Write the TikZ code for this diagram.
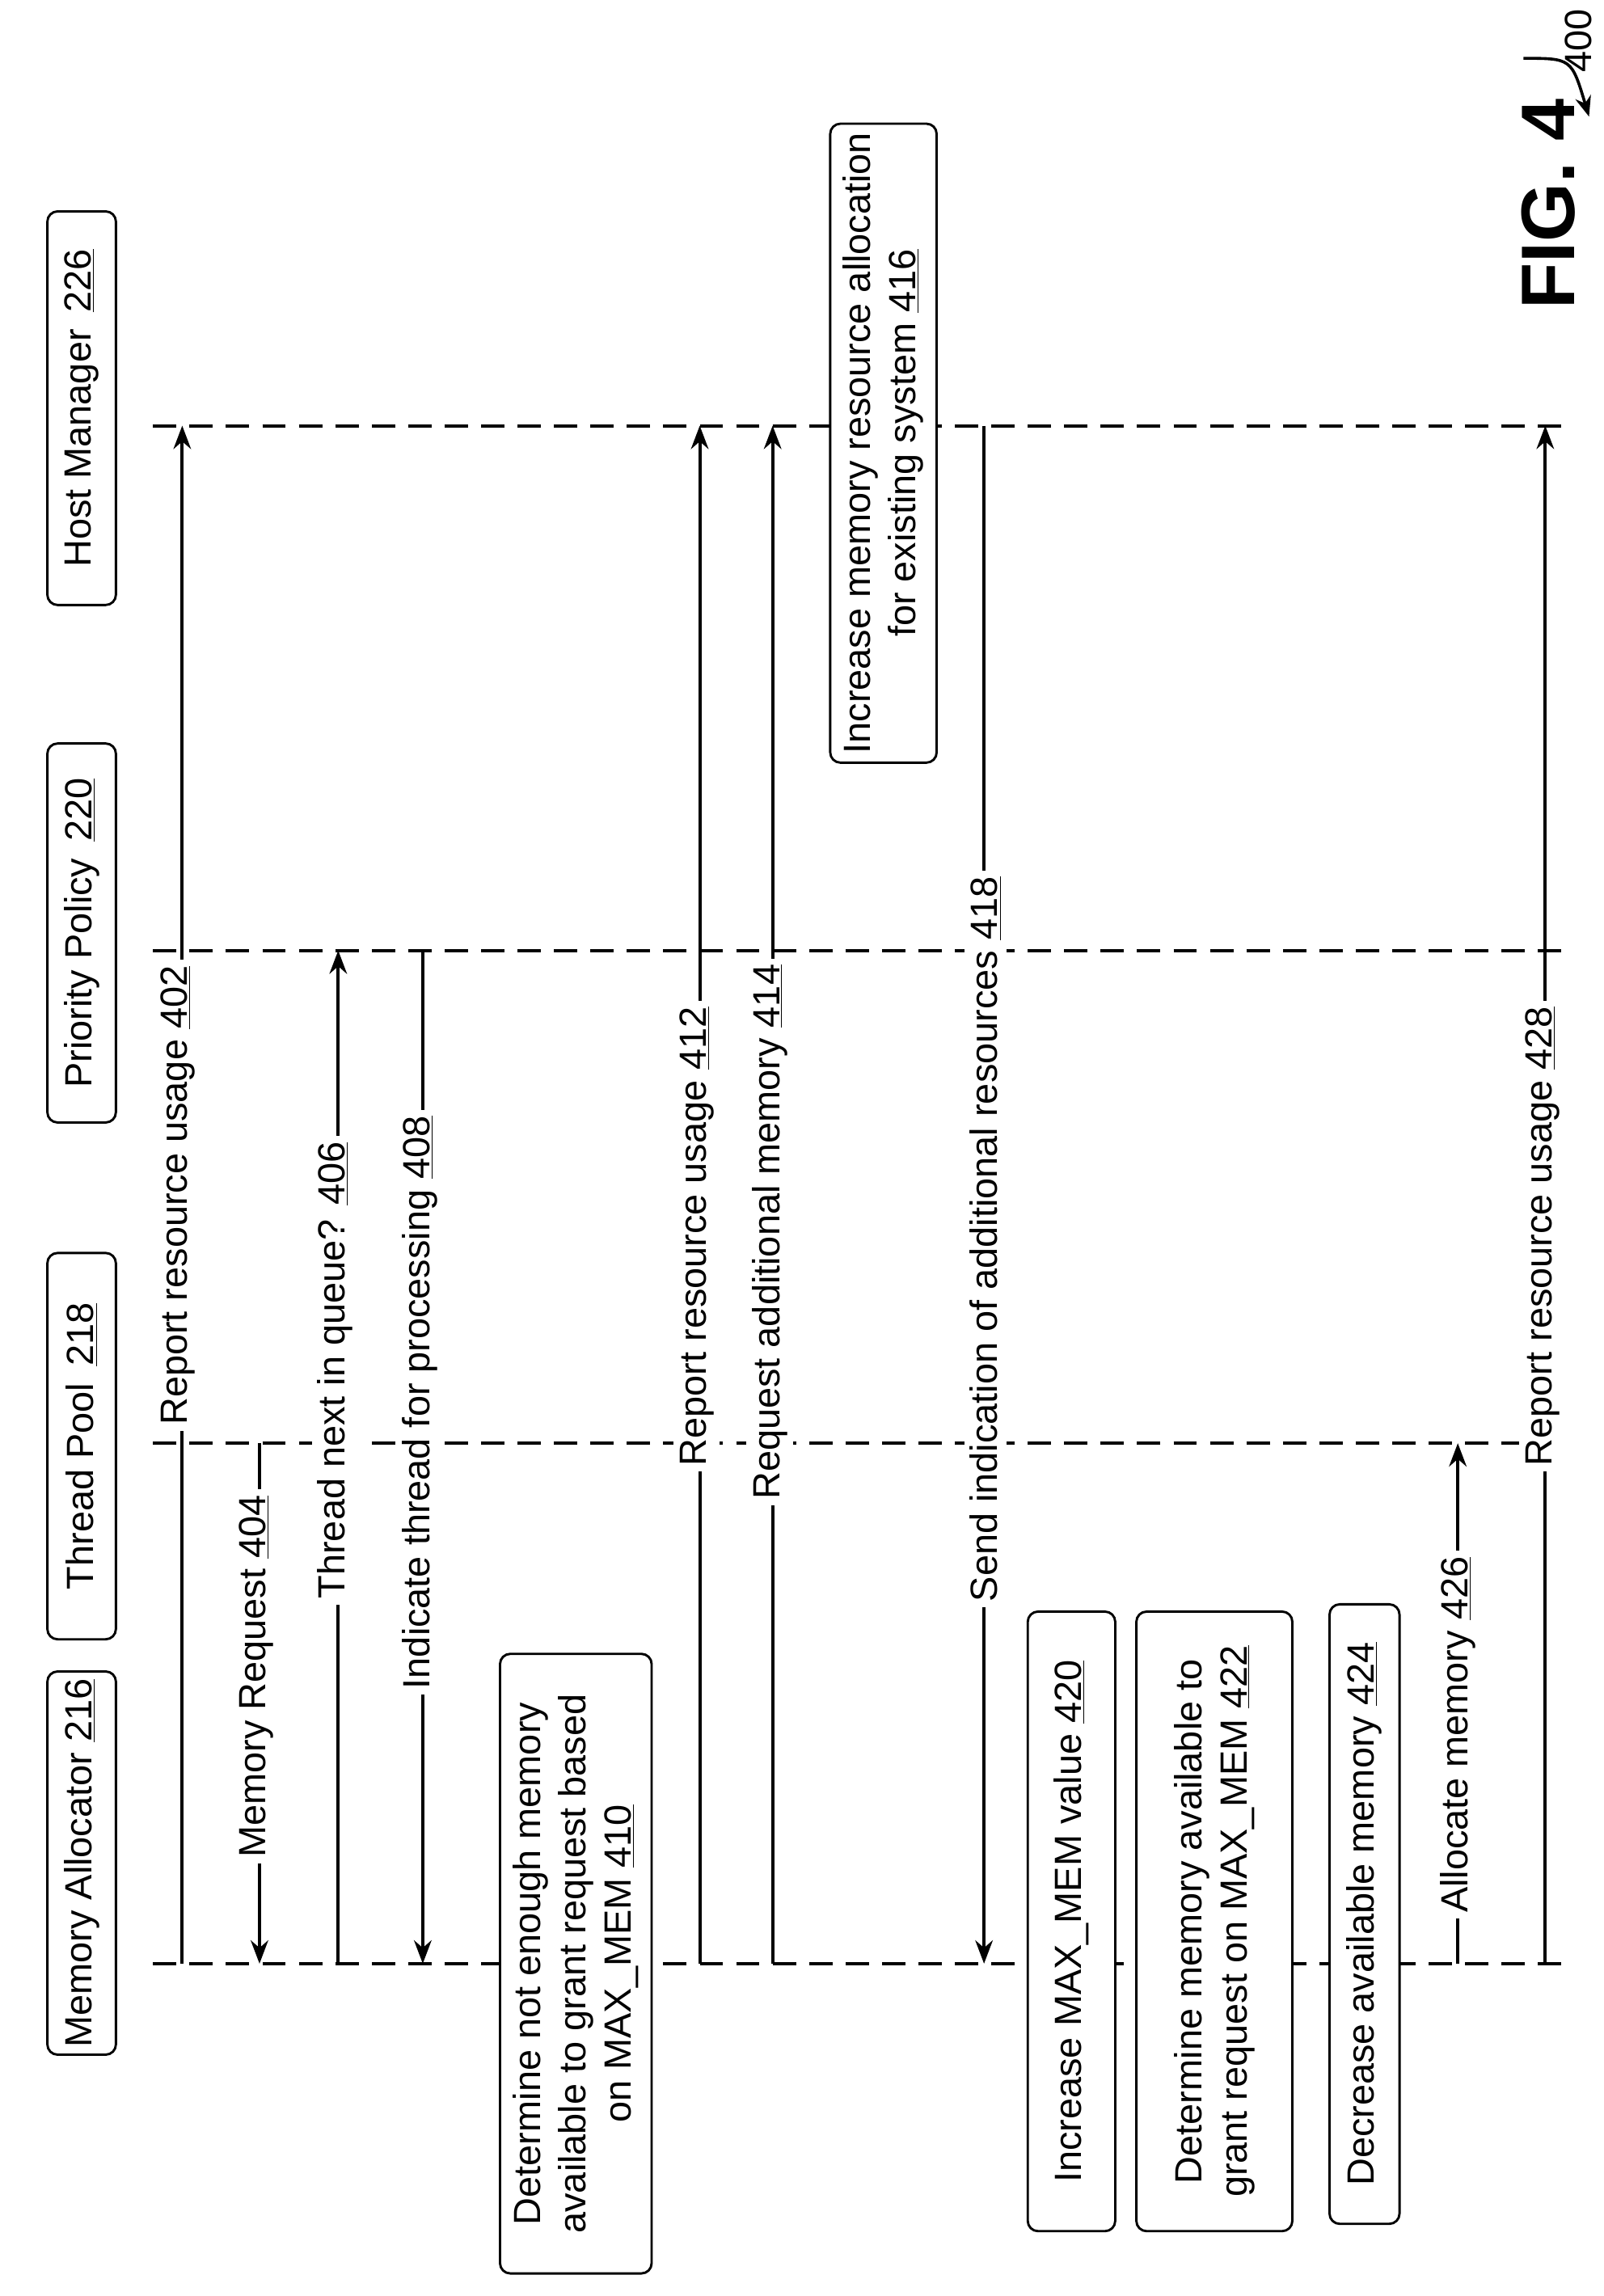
\documentclass[tikz,border=0pt]{standalone}
\usepackage{fontspec}
\setmainfont{Liberation Sans}
\usetikzlibrary{arrows.meta}
\newcommand{\fs}{\fontsize{26}{31}\selectfont}
\newcommand{\ul}[1]{\underline{#1}}
\begin{document}
\begin{tikzpicture}[x=1pt,y=-1pt,
 life/.style={line width=2.2pt,dash pattern=on 16pt off 9pt},
 msg/.style={line width=2.2pt,-{Stealth[length=16pt,width=12pt]}},
 lbl/.style={rotate=90,fill=white,inner sep=4pt,font=\fs},
 box/.style={draw,rounded corners=7pt,line width=1.6pt,fill=white,rotate=90,align=center,font=\fs,inner sep=2pt}]
\useasboundingbox (0,0) rectangle (1100,1575);
% lifelines
\coordinate (MA0) at (105,1347); \coordinate (MA1) at (1078,1347);
\coordinate (TP0) at (105,990); \coordinate (TP1) at (1078,990);
\coordinate (PP0) at (105,652); \coordinate (PP1) at (1078,652);
\coordinate (HM0) at (105,292); \coordinate (HM1) at (1078,292);
\foreach \l in {MA,TP,PP,HM} \draw[life] (\l0) -- (\l1);
% participants
\node[box,minimum width=178,minimum height=47,inner xsep=5pt] (pMA) at (56,1278) {Memory Allocator \ul{216}};
\node[box,minimum width=265,minimum height=47] (pTP) at (56,992) {Thread Pool\, \ul{218}};
\node[box,minimum width=260,minimum height=47] (pPP) at (56,640) {Priority Policy\, \ul{220}};
\node[box,minimum width=270,minimum height=47] (pHM) at (56,280) {Host Manager\, \ul{226}};
% messages
\draw[msg] (125,1347) -- (125,292); \node[lbl] (m402) at (122,820) {Report resource usage \ul{402}};
\draw[msg] (178,990) -- (178,1347); \node[lbl] (m404) at (176,1150) {Memory Request \ul{404}};
\draw[msg] (232,1347) -- (232,652); \node[lbl] (m406) at (230,940) {Thread next in queue? \ul{406}};
\draw[msg] (290,652) -- (290,1347); \node[lbl] (m408) at (288,962) {Indicate thread for processing \ul{408}};
\node[box,minimum width=425,minimum height=104] (b410) at (395,1347) {Determine not enough memory\\available to grant request based\\on MAX\_MEM \ul{410}};
\draw[msg] (480,1347) -- (480,292); \node[lbl] (m412) at (478,848) {Report resource usage \ul{412}};
\draw[msg] (530,1347) -- (530,292); \node[lbl] (m414) at (528,845) {Request additional memory \ul{414}};
\node[box,minimum width=432,minimum height=73,inner xsep=6pt] (b416) at (606,304) {Increase memory resource allocation\\for existing system \ul{416}};
\draw[msg] (675,292) -- (675,1347); \node[lbl] (m418) at (676,850) {Send indication of additional resources \ul{418}};
\node[box,minimum width=425,minimum height=60] (b420) at (735,1318) {Increase MAX\_MEM value \ul{420}};
\node[box,minimum width=425,minimum height=107] (b422) at (833,1318) {Determine memory available to\\grant request on MAX\_MEM \ul{422}};
\node[box,minimum width=425,minimum height=48] (b424) at (936,1313) {Decrease available memory \ul{424}};
\draw[msg] (1000,1347) -- (1000,990); \node[lbl] (m426) at (1000,1190) {Allocate memory \ul{426}};
\draw[msg] (1060,1347) -- (1060,292); \node[lbl] (m428) at (1058,848) {Report resource usage \ul{428}};
% figure label
\node[rotate=90,font=\fontsize{52}{60}\selectfont\bfseries] (fig) at (1062,140) {FIG. 4};
\node[rotate=90,font=\fontsize{26}{30}\selectfont] (n400) at (1083,28) {400};
\coordinate (c1) at (1045,40); \coordinate (c2) at (1090,80);
\draw[line width=2pt,-{Stealth[length=14pt,width=11pt]}] (c1) .. controls (1078,40) .. (c2);
\end{tikzpicture}
\end{document}
